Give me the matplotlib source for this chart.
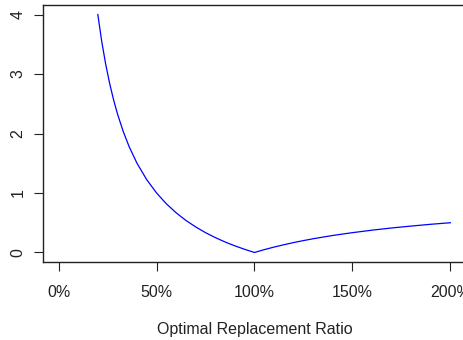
import matplotlib
matplotlib.use("Agg")
import matplotlib.pyplot as plt
from matplotlib.ticker import PercentFormatter

# values
ratio = [0.20, 0.22, 0.24, 0.26, 0.28, 0.30, 0.33, 0.36, 0.40, 0.45,
         0.50, 0.55, 0.60, 0.65, 0.70, 0.75, 0.80, 0.85, 0.90, 0.95,
         1.00, 1.05, 1.10, 1.15, 1.20, 1.25, 1.30, 1.35, 1.40, 1.45,
         1.50, 1.60, 1.70, 1.80, 1.90, 2.00]
loss = [4.000, 3.545, 3.167, 2.846, 2.571, 2.333, 2.030, 1.778, 1.500, 1.222,
        1.000, 0.818, 0.667, 0.538, 0.429, 0.333, 0.250, 0.176, 0.111, 0.053,
        0.000, 0.048, 0.091, 0.130, 0.167, 0.200, 0.231, 0.259, 0.286, 0.310,
        0.333, 0.375, 0.412, 0.444, 0.474, 0.500]

x_ticks = [0, 0.5, 1.0, 1.5, 2.0]
y_ticks = [0, 1, 2, 3, 4]

plt.rcParams.update({
    "font.family": ["Liberation Sans", "DejaVu Sans"],
    "font.size": 11.5,
    "axes.linewidth": 1.0,
})

fig = plt.figure(figsize=(4.64, 3.40), dpi=100)
ax = fig.add_axes([43 / 464, 1 - 262 / 340, 423 / 464, 257 / 340])

ax.plot(ratio, loss, color="#0000FF", linewidth=0.9)

ax.set_xlim(-0.08, 2.08)
ax.set_ylim(-0.16, 4.16)
ax.set_xticks(x_ticks)
ax.set_yticks(y_ticks)
ax.xaxis.set_major_formatter(PercentFormatter(xmax=1.0, decimals=0))

ax.tick_params(axis="both", direction="out", length=6.5, width=0.8, colors="#222222")
ax.tick_params(axis="x", pad=10)
ax.tick_params(axis="y", pad=6)
for lab in ax.get_yticklabels():
    lab.set_rotation(90)
    lab.set_va("center")

for s in ax.spines.values():
    s.set_color("#222222")

ax.set_xlabel("Optimal Replacement Ratio", labelpad=16, color="#222222")

fig.savefig("out.png", dpi=100)
